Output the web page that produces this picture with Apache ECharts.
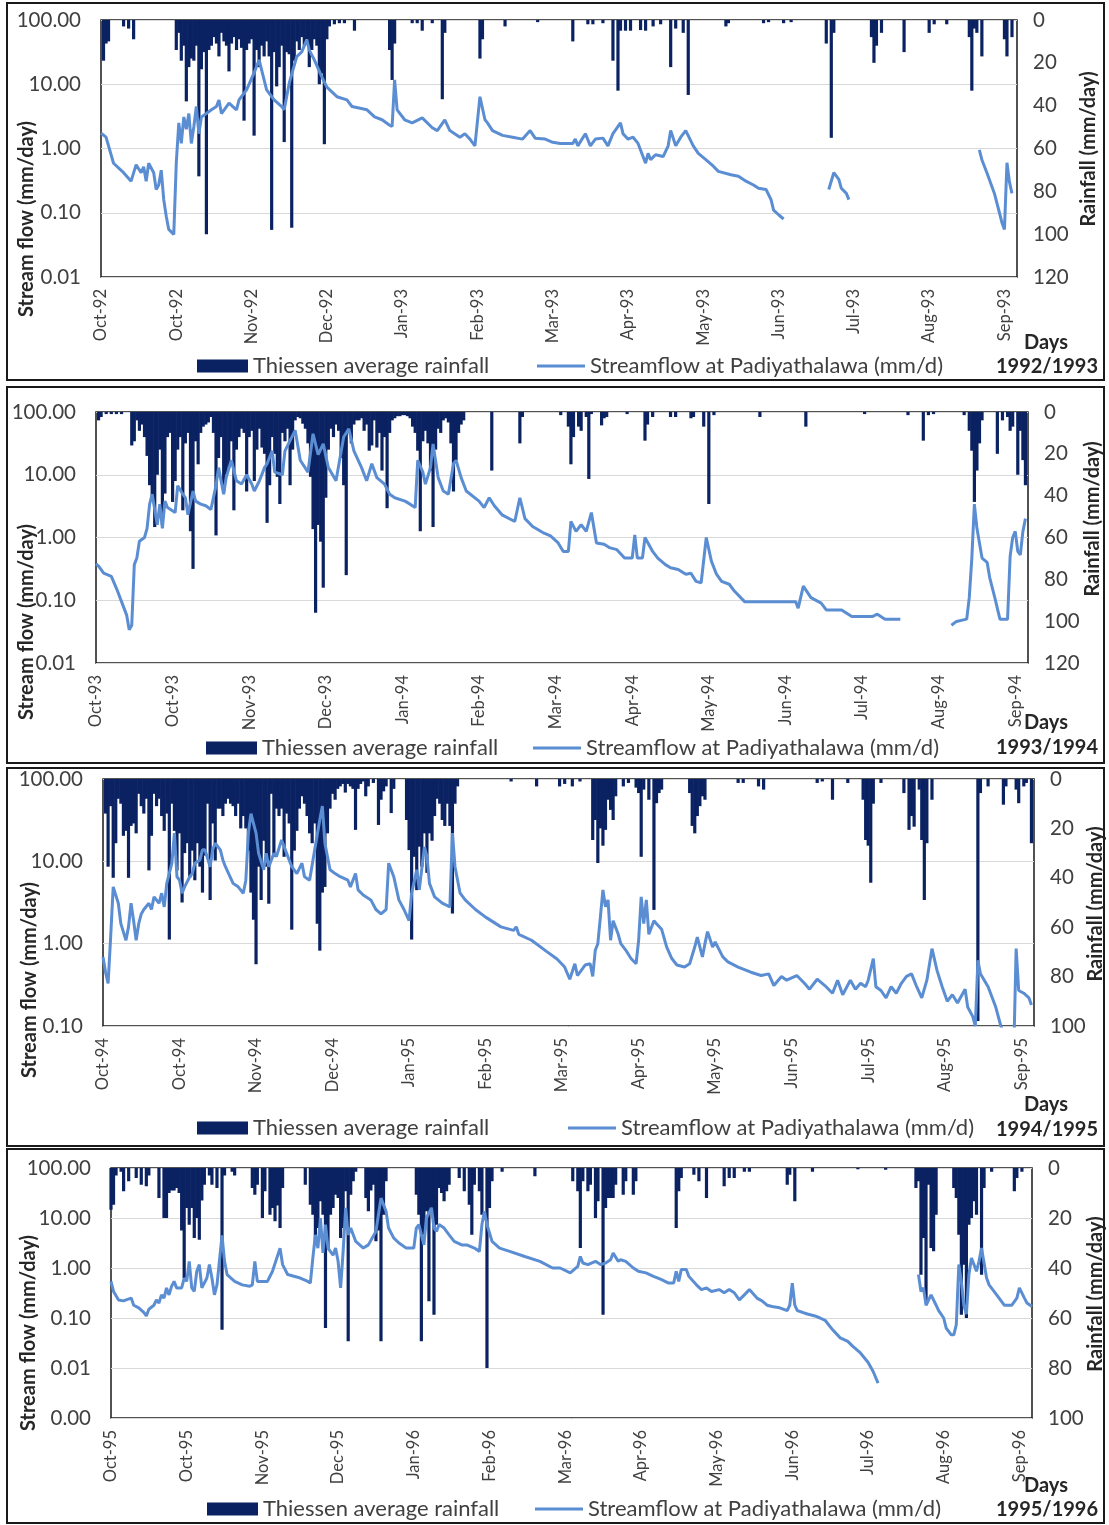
<!DOCTYPE html>
<html>
<head>
<meta charset="utf-8">
<script src="https://cdn.jsdelivr.net/npm/echarts@6/dist/echarts.min.js"></script>
<style>
html, body { margin: 0; padding: 0; background: #fff; }
#chart { width: 1109px; height: 1525px; }
</style>
</head>
<body>
<div id="chart"></div>
<script>
// x tick labels, one every 30 days from 1 Oct
var ticks9293 = ['Oct-92','Oct-92','Nov-92','Dec-92','Jan-93','Feb-93','Mar-93','Apr-93','May-93','Jun-93','Jul-93','Aug-93','Sep-93'];
var ticks9394 = ['Oct-93','Oct-93','Nov-93','Dec-93','Jan-94','Feb-94','Mar-94','Apr-94','May-94','Jun-94','Jul-94','Aug-94','Sep-94'];
var ticks9495 = ['Oct-94','Oct-94','Nov-94','Dec-94','Jan-95','Feb-95','Mar-95','Apr-95','May-95','Jun-95','Jul-95','Aug-95','Sep-95'];
var ticks9596 = ['Oct-95','Oct-95','Nov-95','Dec-95','Jan-96','Feb-96','Mar-96','Apr-96','May-96','Jun-96','Jul-96','Aug-96','Sep-96'];

// daily rainfall [day of water year, mm]
var rain9293 = [[1,19],[2,11],[3,10],[9,3],[11,4],[13,9],
  [30,14],[31,6],[32,19],[33,12],[34,38],[35,22],[36,18],[37,19],[38,12],[39,73],[40,23],[41,15],[42,100],[43,14],[44,12],[45,8],[46,11],[47,17],[48,6],[49,10],[50,12],[51,24],[52,11],[53,8],[54,14],[55,9],[56,13],[57,47],[58,14],[59,11],[60,9],[61,54],[62,14],[63,22],[64,12],[65,17],[66,10],[67,17],[68,98],[69,15],[70,31],[71,22],[72,12],[73,57],[74,15],[75,16],[76,97],[77,19],[78,10],[79,14],[80,8],[81,12],[82,9],[83,22],[84,14],[85,9],[86,12],[87,30],[88,25],[89,58],[90,9],[91,3],[93,2],[95,1.5],[97,1.5],[101,5],[115,14],[116,28],[117,11],[124,1.5],[126,1.5],[128,5],[132,1.5],[136,37],[137,6],[151,18],[152,9],[161,3],[174,1],
  [188,10],[194,2],[196,2],[200,1.5],[204,19],[206,33],[207,5],[209,5],[211,5],[215,4.7],[217,5],[220,3],[223,2],[227,22],[229,4],[232,6],[234,35],[249,3],[250,1.5],[264,1.5],[266,1],[272,1.5],[275,1],[289,11],[291,55],[292,6],[307,8],[308,20],[309,12],[311,6],[320,15],[330,6],[332,2],[337,2],[346,8],[347,33],[348,4],[349,6],[351,17],[360,9],[361,17],[363,8]];
var rain9394 = [[1,4],[2,2.4],[4,1],[6,1],[8,1],[10,1],[14,16],[15,14],[16,4],[17,9],[18,6],[19,12],[20,21],[21,35],[22,41],[23,55],[24,30],[25,18],[26,54],[27,39],[28,12],[29,10],[30,43],[31,33],[32,18],[33,12],[34,47],[35,15],[36,10],[37,57],[38,75],[39,14],[40,25],[41,10],[42,7],[43,6],[44,5],[45,2.4],[46,10],[47,59],[48,22],[49,12],[50,38],[51,30],[52,26],[53,14],[54,47],[55,18],[56,12],[57,8],[58,10],[59,38],[60,12],[61,9],[62,33],[63,18],[64,8],[65,17],[66,20],[67,53],[68,35],[69,12],[70,20],[71,31],[72,44],[73,10],[74,14],[75,8],[76,35],[77,18],[78,4],[79,2.4],[80,3],[81,5.6],[82,8],[83,15],[84,31],[85,56],[86,96],[87,54],[88,62],[89,84],[90,41],[91,18],[92,8],[93,12],[94,6],[95,9],[96,22],[97,35],[98,78],[99,10],[100,15],[101,6],[102,4],[103,4],[104,3],[105,9],[106,6],[107,18.5],[108,16],[109,4],[110,17],[111,10],[112,28],[113,12],[114,46],[115,10],[116,4],[117,3],[118,2],[119,2],[120,1.5],[121,1.5],[122,2],[123,3],[124,7],[125,10],[126,18.5],[127,57],[128,14],[129,9],[130,15],[131,28],[132,55],[133,18],[134,8],[135,10],[136,4],[137,3],[138,5],[139,15],[140,38],[141,23],[142,10],[143,6],[144,4],[155,28],[166,15],[167,2.4],
  [182,1.5],[185,7],[186,25],[187,12],[189,7],[190,9],[192,2.4],[193,32],[194,1],[198,6.4],[199,3],[200,2.4],[208,1],[215,13.7],[216,6],[218,2.4],[225,2.4],[227,2.4],[233,3],[234,2.4],[238,7],[240,44],[242,1.5],[260,2.4],[278,7],[301,1],[318,1.5],[324,13.7],[326,1.5],[328,1],[340,1.5],[342,9],[343,18.5],[344,43],[345,28],[346,15],[347,4],[353,20],[355,4],[357,2.4],[358,9],[359,7],[361,30],[362,9],[363,23],[364,35]];
var rain9495 = [[1,14],[2,35.5],[3,11],[4,40],[5,26],[6,8],[7,10],[8,23],[9,21],[10,40],[11,19],[12,18],[13,22],[14,6],[15,11],[16,14],[17,8],[18,37],[19,23],[20,6],[21,11],[22,8],[23,15],[24,21],[25,14],[26,65],[27,10],[28,21],[29,37],[30,22],[31,50],[32,30],[33,26],[34,40],[35,29],[36,41],[37,26],[38,35.5],[39,46],[40,31],[41,10],[42,49],[43,18],[44,33],[45,12],[46,12],[47,15],[48,10],[49,8],[50,10],[51,11],[52,15],[53,10],[54,20],[55,15],[56,20],[57,29],[58,46],[59,57],[60,75],[61,35.5],[62,49],[63,25],[64,35.5],[65,50.5],[66,6],[67,31.5],[68,12],[69,15],[70,12],[71,31.5],[72,14],[73,18],[74,61],[75,29],[76,21],[77,12],[78,7],[79,10],[80,15],[81,22],[82,26],[83,18],[84,58.6],[85,69.5],[86,46],[87,43.7],[88,22],[89,12],[90,6],[91,8.4],[92,4],[93,3],[94,2],[95,5.5],[96,2],[97,3],[98,4],[99,20.6],[100,4],[101,2],[102,1],[103,7],[104,3],[106,1.6],[108,18.6],[109,8.4],[110,5],[111,3],[113,13.8],[114,4],[119,16.6],[120,28.8],[121,65],[122,31.5],[123,45],[124,27.4],[125,35.5],[126,22],[127,38],[128,22],[129,25],[130,15],[131,8],[132,10],[133,16.6],[134,19],[135,10],[136,19],[137,54.5],[138,10],[139,3],[160,1],[170,3],
  [179,3],[181,2],[184,3],[187,1],[192,24.7],[193,16.6],[194,34],[195,20],[196,27],[197,20.6],[198,8.4],[199,12.5],[200,16.6],[201,7],[204,3],[206,1.6],[209,3.5],[210,5.7],[211,31.5],[212,4.3],[214,8.4],[216,53],[217,9.8],[218,5.7],[219,4.3],[230,5.7],[231,19],[232,22],[233,15],[234,11],[235,7],[236,8.4],[249,1.6],[251,1.6],[257,3],[259,4.3],[280,1.6],[282,1],[286,8.4],[292,1.6],[298,8.4],[299,24.7],[300,27],[301,42],[302,10],[305,1.6],[314,5.7],[316,20.6],[317,15],[318,19.3],[320,4.3],[321,24.7],[322,49],[323,26],[325,8.4],[343,98],[344,5.7],[347,3],[353,10.4],[354,3],[358,4.3],[359,9.8],[361,3],[362,1.6],[364,26]];
var rain9596 = [[0,16.7],[1,14.7],[2,3],[4,1.5],[5,9.3],[7,5.3],[10,4],[12,6.7],[14,7.3],[15,3],[19,12],[21,20],[22,20],[23,10],[24,9],[25,9],[26,8],[27,10],[28,25],[29,44],[30,16],[31,22.7],[32,16],[33,28],[34,20],[35,28.7],[36,13],[37,6.7],[39,3],[40,6.7],[42,8],[44,64.7],[45,3],[48,1.5],[49,3],[56,8],[57,10.7],[58,6.7],[60,20],[61,9.3],[63,18.7],[64,16],[65,21.3],[66,15],[67,24],[68,8],[77,6.7],[79,14.7],[80,18.7],[81,30.7],[82,24],[83,13.3],[84,18.7],[85,64],[86,32],[87,18.7],[88,16],[89,10.7],[90,12],[91,28],[92,24],[93,9.3],[94,69.3],[95,10.7],[96,5.3],[97,1.5],[101,12],[102,17.3],[103,9],[104,6.7],[105,29.3],[106,25],[107,69.3],[108,18.7],[109,5.3],[121,10.7],[122,18.7],[123,69.3],[124,26.7],[125,17.3],[126,53.3],[127,16],[128,58.7],[129,22.7],[130,8],[131,10],[132,13.3],[133,9.3],[134,6.7],[138,4],[140,9.3],[142,14.7],[143,26.7],[144,6.7],[146,9.3],[147,18.7],[149,80],[150,16],[151,5.3],[155,1.5],[168,3.3],
  [183,5.3],[185,9.3],[186,32],[187,5.3],[189,9.3],[190,6.7],[192,20],[193,13.3],[195,58.7],[196,16],[197,12],[198,12],[199,12],[200,6.7],[203,10.7],[204,5.3],[207,10.7],[208,5.3],[224,24],[225,9.3],[226,4],[231,2.7],[233,5.3],[236,12],[243,7.3],[245,4],[247,4],[251,1.5],[253,1.5],[268,6.7],[269,2.7],[271,13.3],[278,1.5],[296,0.5],[307,0.7],[319,8],[320,5.3],[321,42.7],[322,28],[323,53.3],[324,6.7],[325,32],[326,33.3],[327,18.7],[334,8],[335,12],[336,26.7],[337,58.7],[338,38.7],[339,60],[340,22.7],[341,20],[342,13.3],[343,18.7],[345,42.7],[346,8],[349,1.5],[358,9.3],[359,4],[361,1.5]];

// daily streamflow [day, mm/d]; null = no record
var flow9293 = [[0,1.74],[2,1.5],[5,0.59],[9,0.42],[12,0.31],[14,0.56],[16,0.42],[17,0.52],[18,0.31],[19,0.59],[21,0.42],[22,0.23],[23,0.27],[24,0.46],[25,0.16],[26,0.088],[27,0.055],[29,0.046],[30,0.6],[31,2.5],[32,1.2],[33,3.1],[34,2.0],[35,3.5],[36,1.2],[37,2.2],[38,4.5],[39,1.7],[40,3.1],[42,3.5],[44,4.0],[46,4.5],[47,5.7],[48,3.5],[51,5.1],[54,4.0],[55,5.7],[58,8.2],[61,15],[63,24],[66,8.2],[69,5.7],[72,4.5],[73,4.0],[75,10.4],[78,27],[80,32],[82,49],[83,34],[85,24],[88,13],[90,9],[94,6.4],[98,5.7],[100,4.5],[106,4.0],[109,3.1],[112,2.8],[115,2.3],[116,2.2],[117,11.7],[118,4.0],[121,2.8],[124,2.5],[128,3.0],[132,2.1],[134,1.9],[137,2.8],[139,1.9],[143,1.5],[145,1.7],[147,1.4],[149,1.1],[151,6.4],[153,2.8],[154,2.5],[156,1.9],[160,1.6],[164,1.5],[168,1.4],[171,1.9],[173,1.45],[177,1.4],[180,1.25],[183,1.2],[188,1.2],[189,1.4],[190,1.1],[193,1.7],[195,1.1],[197,1.4],[200,1.45],[202,1.1],[204,1.7],[207,2.5],[208,1.7],[210,1.4],[212,1.5],[214,1.2],[217,0.59],[218,0.84],[219,0.67],[221,0.8],[224,0.75],[226,1.1],[227,1.9],[229,1.1],[231,1.5],[233,1.9],[236,1.1],[238,0.84],[241,0.67],[244,0.53],[246,0.44],[251,0.39],[254,0.37],[257,0.31],[260,0.27],[262,0.24],[265,0.23],[267,0.16],[268,0.11],[270,0.093],[272,0.08],[273,null],[290,0.23],[292,0.42],[294,0.33],[295,0.24],[297,0.2],[298,0.16],[299,null],[350,0.95],[351,0.67],[353,0.42],[356,0.2],[358,0.1],[359,0.07],[360,0.055],[361,0.6],[362,0.3],[363,0.2]];
var flow9394 = [[0,0.38],[1,0.35],[3,0.27],[6,0.24],[8,0.155],[10,0.095],[12,0.058],[13,0.034],[14,0.04],[15,0.37],[16,0.47],[17,0.87],[19,1.0],[20,1.4],[21,3.4],[22,4.9],[24,1.6],[25,3.4],[26,1.4],[27,3.8],[28,3.0],[31,2.5],[32,6.7],[34,4.9],[35,4.3],[36,2.3],[38,5.5],[39,3.8],[41,3.4],[43,3.2],[45,2.8],[47,6.7],[48,13],[50,4.9],[51,9.1],[53,17],[55,8],[57,7.1],[59,10],[61,7.1],[62,5.5],[64,8],[66,13],[67,15],[69,24],[70,11],[73,10],[74,24],[76,35],[78,51],[80,17],[83,11],[85,45],[87,21],[89,31],[91,13],[94,8],[97,40],[99,54],[101,24],[104,13],[106,8],[108,15],[110,9],[113,7.1],[115,4.9],[117,4.3],[121,3.8],[123,3.4],[125,3.0],[126,17],[128,11],[129,7.1],[131,13],[132,31],[134,9],[136,5.5],[138,4.9],[140,15],[141,17],[143,9],[145,5.5],[150,3.8],[152,3.0],[154,4.3],[156,3.2],[159,2.3],[164,1.8],[166,4.3],[168,2.0],[171,1.5],[175,1.2],[178,1.06],[181,0.82],[183,0.6],[185,0.6],[186,1.8],[188,1.25],[190,1.6],[192,1.25],[194,2.5],[196,0.82],[199,0.78],[201,0.69],[204,0.64],[207,0.47],[210,0.47],[211,1.1],[212,0.47],[214,0.47],[215,1.0],[218,0.6],[220,0.47],[223,0.37],[225,0.33],[228,0.31],[231,0.26],[233,0.27],[235,0.2],[237,0.19],[239,1.0],[241,0.42],[243,0.26],[245,0.2],[248,0.18],[250,0.14],[254,0.095],[274,0.095],[275,0.075],[277,0.168],[280,0.11],[284,0.09],[286,0.07],[292,0.07],[296,0.055],[304,0.055],[306,0.06],[309,0.05],[315,0.05],[316,null],[335,0.04],[337,0.046],[341,0.05],[342,0.11],[343,0.47],[344,3.4],[345,1.4],[347,0.47],[349,0.4],[350,0.23],[352,0.11],[354,0.05],[357,0.05],[358,0.5],[359,1.0],[360,1.25],[361,0.6],[362,0.53],[363,1.25],[364,2.0]];
var flow9495 = [[0,0.69],[1,0.45],[2,0.33],[3,1.2],[4,4.9],[6,3.1],[7,1.75],[9,1.1],[10,1.6],[11,3.1],[12,1.9],[13,1.1],[14,1.75],[15,2.3],[16,2.6],[18,3.1],[19,2.6],[20,3.7],[22,3.1],[23,4.1],[24,2.8],[25,5.4],[27,9.5],[28,22],[29,6.5],[30,5.9],[31,4.1],[32,4.9],[34,6.5],[35,7.1],[36,9.5],[38,10.4],[39,13.8],[40,13.8],[42,8.6],[43,13.8],[44,16.6],[46,13.8],[47,10.4],[48,8.6],[51,5.4],[53,4.9],[55,4.1],[56,5.9],[57,22],[58,38],[60,22],[61,12.5],[63,7.9],[64,12.5],[65,8.6],[67,12.5],[68,11.4],[70,18.2],[72,12.5],[74,8.6],[76,7.1],[78,9.5],[79,6.5],[81,5.9],[83,13.8],[85,32],[86,47],[87,16.6],[89,7.9],[91,7.1],[93,6.5],[96,5.9],[97,4.9],[99,7.1],[100,4.5],[102,3.9],[105,3.4],[107,2.6],[109,2.3],[111,2.6],[112,9.5],[114,6.5],[116,3.4],[118,2.6],[120,1.9],[121,4.1],[123,7.9],[124,4.5],[126,15],[127,11.4],[128,5.4],[130,3.7],[133,3.1],[136,2.8],[137,22],[138,8.6],[140,4.1],[142,3.4],[146,2.6],[150,2.1],[156,1.6],[161,1.45],[162,1.6],[163,1.3],[168,1.1],[174,0.8],[178,0.65],[181,0.52],[183,0.37],[185,0.57],[186,0.41],[189,0.55],[191,0.57],[192,0.4],[193,0.83],[194,1.0],[195,2.1],[196,4.5],[197,2.8],[198,3.4],[199,1.1],[200,1.9],[202,1.3],[203,1.0],[205,0.83],[207,0.66],[209,0.57],[210,1.1],[211,3.7],[212,1.75],[213,3.4],[214,1.3],[216,1.9],[217,1.75],[219,1.5],[221,0.91],[223,0.66],[225,0.55],[228,0.52],[230,0.57],[232,0.91],[233,1.2],[235,0.69],[236,1.0],[237,1.4],[239,0.91],[240,1.05],[243,0.69],[245,0.6],[249,0.52],[254,0.45],[258,0.41],[261,0.43],[263,0.31],[266,0.4],[268,0.36],[272,0.41],[275,0.33],[277,0.28],[280,0.37],[283,0.31],[286,0.25],[288,0.36],[290,0.24],[293,0.36],[295,0.28],[297,0.33],[299,0.3],[300,0.36],[302,0.66],[303,0.3],[305,0.27],[307,0.22],[309,0.3],[311,0.25],[313,0.33],[315,0.4],[317,0.43],[319,0.3],[321,0.22],[323,0.36],[325,0.87],[327,0.47],[329,0.3],[331,0.2],[333,0.24],[335,0.19],[338,0.28],[339,0.17],[341,0.13],[342,0.1],[343,0.63],[344,0.43],[347,0.3],[350,0.17],[352,0.1],[355,0.06],[357,0.04],[358,0.87],[359,0.27],[361,0.25],[363,0.22],[364,0.18]];
var flow9596 = [[0,0.54],[1,0.34],[3,0.23],[5,0.22],[6,0.23],[8,0.25],[9,0.18],[11,0.16],[13,0.13],[14,0.11],[15,0.15],[17,0.18],[18,0.23],[19,0.2],[20,0.29],[21,0.25],[22,0.4],[23,0.29],[24,0.43],[25,0.54],[26,0.4],[28,0.4],[29,0.63],[30,0.54],[31,1.36],[32,0.4],[33,0.34],[34,0.86],[35,1.17],[36,0.4],[38,0.63],[39,1.17],[40,0.63],[41,0.29],[42,0.46],[44,4.5],[45,1.36],[46,0.74],[49,0.54],[52,0.46],[55,0.43],[56,0.46],[57,1.36],[58,0.54],[60,0.54],[62,0.54],[64,0.86],[67,2.5],[68,1.17],[70,0.74],[75,0.63],[78,0.54],[79,0.5],[80,1.6],[81,4.6],[82,2.5],[83,10],[84,2.0],[85,7.4],[86,2.5],[88,1.8],[89,2.5],[90,1.36],[91,0.4],[92,2.15],[93,16],[94,4.6],[95,6.3],[97,3.4],[100,2.5],[102,2.9],[105,5.4],[106,11.7],[107,25],[109,13.6],[110,6.3],[112,4],[114,3.2],[117,2.5],[120,2.5],[121,6.3],[122,7.4],[124,2.9],[125,10],[127,16],[128,6.3],[129,5.4],[130,7.4],[132,6.3],[134,4.6],[136,3.4],[139,2.9],[141,2.9],[144,2.5],[146,2.15],[147,7.4],[148,13.6],[149,7.4],[151,3.4],[154,2.5],[158,2.15],[164,1.7],[170,1.36],[175,1.0],[178,1.0],[182,0.8],[185,1.08],[186,1.7],[187,1.26],[189,1.17],[192,1.36],[194,1.17],[196,1.26],[198,1.46],[199,2.0],[201,1.36],[202,1.46],[204,1.36],[207,1.0],[209,0.86],[212,0.8],[215,0.68],[218,0.59],[221,0.5],[223,0.5],[224,0.86],[225,0.54],[226,0.93],[228,0.93],[229,0.68],[232,0.46],[234,0.37],[236,0.4],[238,0.34],[241,0.37],[243,0.32],[245,0.37],[247,0.32],[249,0.23],[251,0.29],[253,0.37],[256,0.25],[258,0.22],[260,0.18],[262,0.17],[265,0.16],[268,0.14],[269,0.18],[270,0.5],[271,0.18],[272,0.14],[274,0.13],[276,0.12],[279,0.11],[281,0.1],[283,0.09],[286,0.058],[289,0.04],[292,0.034],[294,0.027],[297,0.02],[300,0.013],[302,0.0086],[304,0.005],[305,null],[320,0.74],[321,0.34],[322,0.4],[323,0.18],[325,0.29],[327,0.18],[328,0.14],[330,0.1],[331,0.063],[333,0.046],[334,0.046],[335,0.074],[336,1.17],[337,0.54],[338,0.18],[339,0.12],[340,0.74],[341,1.58],[342,1.17],[343,0.86],[344,1.36],[345,2.5],[347,0.63],[348,0.46],[351,0.29],[354,0.18],[357,0.18],[359,0.25],[360,0.4],[362,0.25],[363,0.2],[365,0.17]];

var years = ['1992/1993', '1993/1994', '1994/1995', '1995/1996'];
var flowMin = [0.01, 0.01, 0.1, 0.001];
var rainMax = [120, 120, 100, 100];

var rainName = 'Thiessen average rainfall';
var flowName = 'Streamflow at Padiyathalawa (mm/d)';

// panel geometry (pixels)
var panels = [
  { rain: rain9293, flow: flow9293, ticks: ticks9293, grid: {left: 101, top: 20, width: 916, height: 257},
    frame: 3, frameH: 377, legendY: 368, rainX: 197, flowX: 537, daysY: 343, yearY: 367, leftT: [27, 219], rightT: [1089, 149] },
  { rain: rain9394, flow: flow9394, ticks: ticks9394, grid: {left: 96, top: 412, width: 932, height: 251},
    frame: 387, frameH: 376, legendY: 750, rainX: 206, flowX: 533, daysY: 723, yearY: 748, leftT: [27, 622], rightT: [1093, 519] },
  { rain: rain9495, flow: flow9495, ticks: ticks9495, grid: {left: 103, top: 779, width: 931, height: 247},
    frame: 768, frameH: 378, legendY: 1130, rainX: 197, flowX: 568, daysY: 1105, yearY: 1130, leftT: [30, 980], rightT: [1096, 904] },
  { rain: rain9596, flow: flow9596, ticks: ticks9596, grid: {left: 111, top: 1168, width: 921, height: 250},
    frame: 1149, frameH: 374, legendY: 1511, rainX: 207, flowX: 535, daysY: 1486, yearY: 1510, leftT: [29, 1333], rightT: [1096, 1294] }
];

var FONT = 'Lato, "Open Sans", sans-serif';
var TXT = '#404040';
var BAR = '#0b2262';
var LINE = '#5b8dd3';

var grids = [], xAxes = [], yAxes = [], series = [], legends = [], graphics = [];

function label(x, y, text, rot) {
  return {
    type: 'text', x: x, y: y, rotation: rot || 0, silent: true,
    style: {text: text, font: 'bold 20px ' + FONT, fill: '#262626',
      align: 'center', verticalAlign: 'middle', textAlign: 'center', textVerticalAlign: 'middle'}
  };
}

panels.forEach(function (p, i) {
  grids.push({
    left: p.grid.left, top: p.grid.top, width: p.grid.width, height: p.grid.height,
    show: true, borderColor: '#1a1a1a', borderWidth: 1.5, backgroundColor: 'transparent'
  });
  xAxes.push({
    type: 'value', gridIndex: i, min: 0, max: 365, interval: 30,
    axisLine: {show: false}, axisTick: {show: false}, splitLine: {show: false},
    axisLabel: {
      rotate: 90, margin: 12, color: TXT, fontFamily: FONT, fontSize: 16.5, showMaxLabel: false,
      formatter: (function (ticks) {
        return function (v) { return v % 30 === 0 ? (ticks[v / 30] || '') : ''; };
      })(p.ticks)
    }
  });
  yAxes.push({
    type: 'log', logBase: 10, gridIndex: i, min: flowMin[i], max: 100, position: 'left',
    axisLine: {show: false}, axisTick: {show: false},
    splitLine: {show: true, lineStyle: {color: '#d9d9d9', width: 1}},
    axisLabel: {
      margin: 20, color: TXT, fontFamily: FONT, fontSize: 20.5,
      formatter: function (v) { return Number(v).toFixed(2); }
    }
  });
  yAxes.push({
    type: 'value', gridIndex: i, min: 0, max: rainMax[i], interval: 20, inverse: true, position: 'right',
    axisLine: {show: false}, axisTick: {show: false}, splitLine: {show: false},
    axisLabel: {margin: 16, color: TXT, fontFamily: FONT, fontSize: 20.5}
  });
  // rainfall hangs from the top on the inverted right axis
  series.push({
    type: 'bar', name: rainName, xAxisIndex: i, yAxisIndex: 2 * i + 1,
    data: p.rain, barWidth: 3.2, itemStyle: {color: BAR}
  });
  series.push({
    type: 'line', name: flowName, xAxisIndex: i, yAxisIndex: 2 * i,
    data: p.flow.map(function (d) { return d[1] == null ? [d[0], '-'] : d; }),
    symbol: 'none', showSymbol: false, connectNulls: false, clip: true, z: 3,
    lineStyle: {color: LINE, width: 3}, itemStyle: {color: LINE}
  });
  // legend "top" is the box top, so lift it a little above the text centre line
  legends.push({
    left: p.rainX, top: p.legendY - 13, padding: 0, itemWidth: 51, itemHeight: 13, selectedMode: false,
    data: [{name: rainName, icon: 'rect'}],
    textStyle: {fontFamily: FONT, fontSize: 22, color: TXT}
  });
  legends.push({
    left: p.flowX, top: p.legendY - 13, padding: 0, itemWidth: 48, itemHeight: 3, selectedMode: false,
    data: [{name: flowName, icon: 'rect'}],
    textStyle: {fontFamily: FONT, fontSize: 22, color: TXT}
  });

  graphics.push({
    type: 'rect', shape: {x: 7, y: p.frame, width: 1097, height: p.frameH},
    style: {fill: 'none', stroke: '#1a1a1a', lineWidth: 2}, silent: true
  });
  graphics.push(label(p.leftT[0], p.leftT[1], 'Stream flow (mm/day)', Math.PI / 2));
  graphics.push(label(p.rightT[0], p.rightT[1], 'Rainfall (mm/day)', Math.PI / 2));
  graphics.push(label(1046, p.daysY, 'Days'));
  graphics.push(label(1047, p.yearY, years[i]));
});

var chart = echarts.init(document.getElementById('chart'));
chart.setOption({
  animation: false,
  backgroundColor: '#fff',
  grid: grids,
  xAxis: xAxes,
  yAxis: yAxes,
  legend: legends,
  series: series,
  graphic: graphics
});
</script>
</body>
</html>
